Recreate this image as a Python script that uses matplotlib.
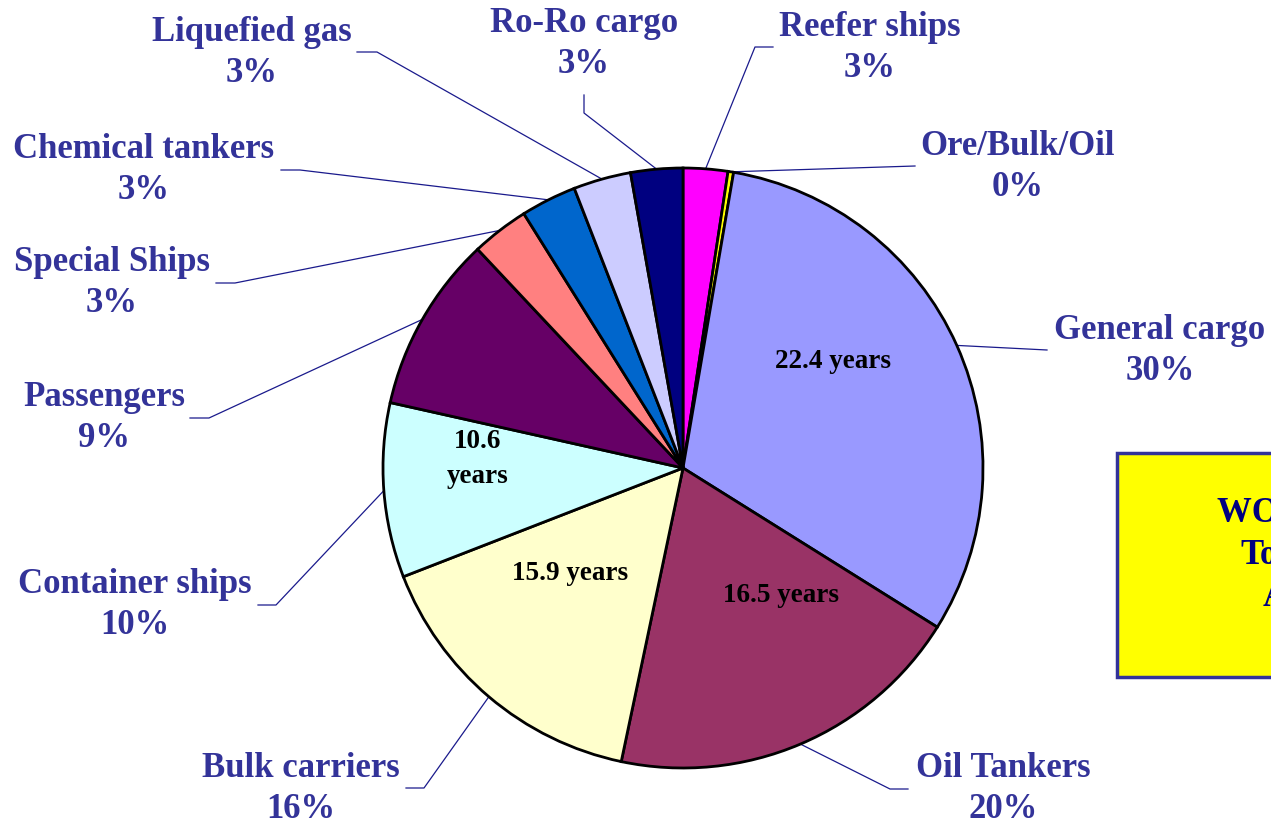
import matplotlib.pyplot as plt
import matplotlib.patches as mpatches
import numpy as np

plt.rcParams['font.family'] = ['Liberation Serif', 'DejaVu Serif']
plt.rcParams['font.weight'] = 'bold'

# ship types, clockwise from 12 o'clock
names = ["Reefer ships", "Ore/Bulk/Oil", "General cargo", "Oil Tankers", "Bulk carriers",
         "Container ships", "Passengers", "Special Ships", "Chemical tankers",
         "Liquefied gas", "Ro-Ro cargo"]
shares = [2.4, 0.3, 31.2, 19.4, 15.8, 9.4, 9.5, 3.1, 3.0, 3.1, 2.8]
pct_labels = ["3%", "0%", "30%", "20%", "16%", "10%", "9%", "3%", "3%", "3%", "3%"]
ages = {"General cargo": "22.4 years", "Oil Tankers": "16.5 years",
        "Bulk carriers": "15.9 years", "Container ships": "10.6\nyears"}

colors = ["#FF00FF", "#FFFF00", "#9999FF", "#993366", "#FFFFCC", "#CCFFFF",
          "#660066", "#FF8080", "#0066CC", "#CCCCFF", "#000080"]

W, H = 1271, 827


def px(x, y):
    return (x, H - y)


# label block centre, leader start, leader knee (pixel positions)
label_pos = [(870, 48), (1018, 167), (1160, 351), (1003, 789), (301, 789), (135, 605),
             (104, 418), (112, 283), (144, 170), (252, 53), (584, 44)]
leader_start = [(773, 47), (915, 166), (1047, 350), (908, 789), (406, 788), (258, 605),
                (190, 418), (216, 283), (281, 170), (357, 52), (584, 95)]
leader_knee = [(755, 47), (915, 166), (1047, 350), (890, 789), (424, 788), (276, 605),
               (209, 418), (235, 283), (300, 170), (377, 52), (584, 113)]
age_pos = {"General cargo": (833, 362), "Oil Tankers": (781, 596),
           "Bulk carriers": (570, 574), "Container ships": (478, 459)}

fig = plt.figure(figsize=(W / 100, H / 100), dpi=100)
ax = fig.add_axes([0, 0, 1, 1])

cx, cy = px(683, 468)
R = 300
wedges, _ = ax.pie(shares, colors=colors, startangle=90, counterclock=False,
                   center=(cx, cy), radius=R, frame=True,
                   wedgeprops=dict(edgecolor='black', linewidth=2.0))
ax.set_xlim(0, W)
ax.set_ylim(0, H)
ax.set_aspect('equal')
ax.axis('off')

label_color = "#333399"
line_color = "#1a1a8c"
for i, w in enumerate(wedges):
    mid = np.deg2rad((w.theta1 + w.theta2) / 2)
    rim = (cx + R * np.cos(mid), cy + R * np.sin(mid))
    s = px(*leader_start[i])
    k = px(*leader_knee[i])
    ax.plot([s[0], k[0], rim[0]], [s[1], k[1], rim[1]], color=line_color, lw=0.9, zorder=0.5)
    ax.text(*px(*label_pos[i]), names[i] + "\n" + pct_labels[i], ha='center', va='center',
            fontsize=25, color=label_color, fontweight='bold', linespacing=1.35)
    if names[i] in ages:
        ax.text(*px(*age_pos[names[i]]), ages[names[i]], ha='center', va='center',
                fontsize=19.5, color='black', fontweight='bold', linespacing=1.5)

# yellow info box (cut off at the right edge, as in the source slide)
box = mpatches.Rectangle(px(1117, 677), 200, 224, facecolor='#FFFF00',
                         edgecolor='#333399', linewidth=2.5, zorder=3)
ax.add_patch(box)
ax.text(*px(1217, 513), "WORLD FLEET", ha='left', va='center', fontsize=25,
        color='#000080', fontweight='bold', zorder=4)
ax.text(*px(1240, 556), "Total", ha='left', va='center', fontsize=25,
        color='#000080', fontweight='bold', zorder=4)
ax.text(*px(1263, 598), "Average age", ha='left', va='center', fontsize=25,
        color='#000080', fontweight='bold', zorder=4)

fig.savefig("out.png", dpi=100)
